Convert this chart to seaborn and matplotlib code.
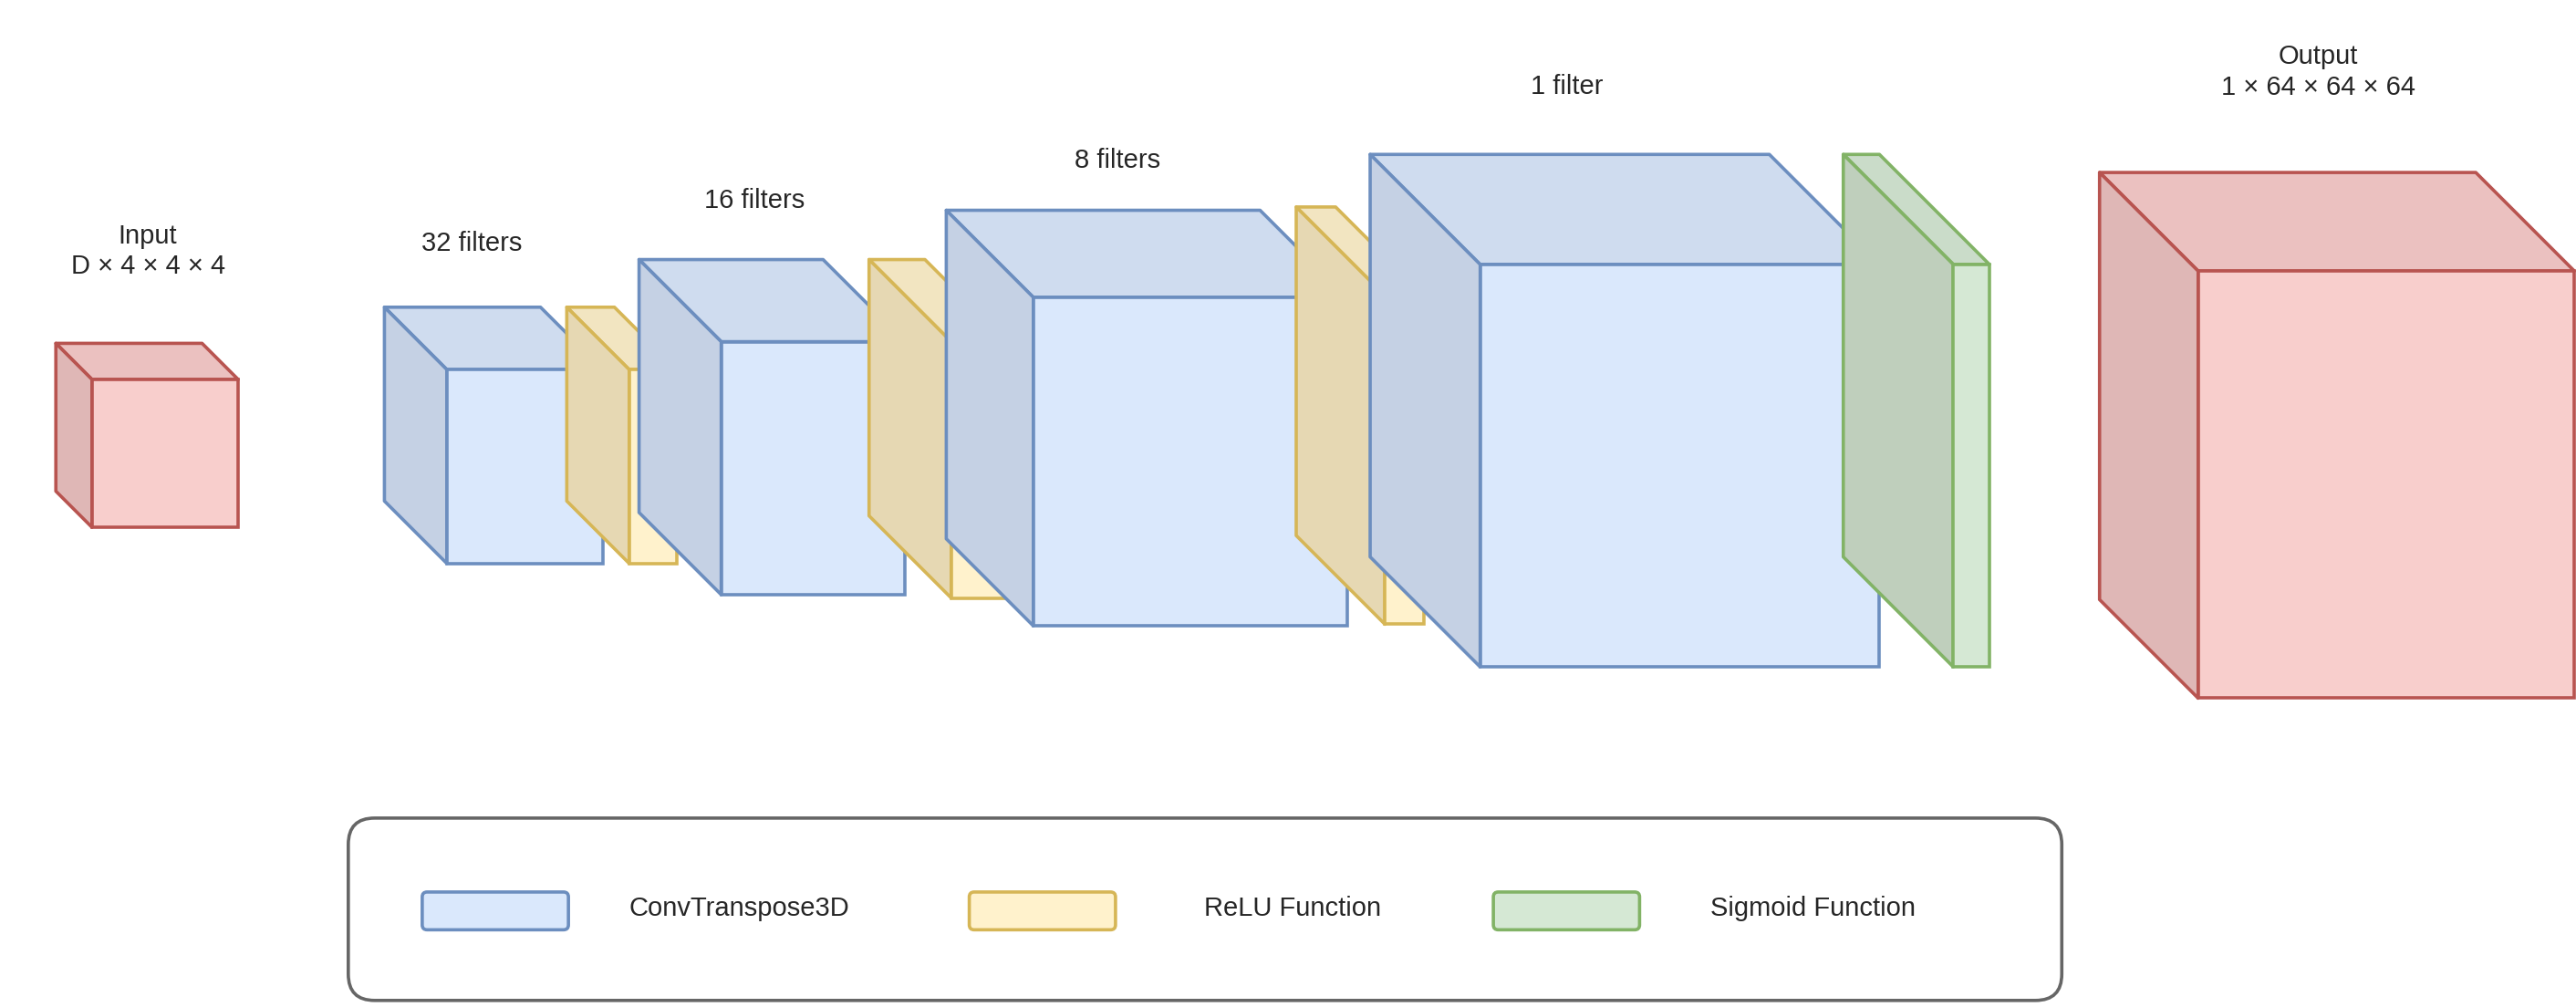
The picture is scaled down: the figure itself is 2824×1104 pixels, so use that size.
import matplotlib.pyplot as plt
import seaborn as sns
from matplotlib.patches import Polygon, Rectangle, FancyBboxPatch

sns.set_theme(style="white")
plt.rcParams['font.family'] = ['Liberation Sans', 'DejaVu Sans']

# layer blocks: front face (x0, y0, x1, y1), depth offset, kind
layer_names = ["input", "conv32", "relu1", "conv16", "relu2", "conv8", "relu3", "conv1", "sigmoid", "output"]
front_x0 = [56, 272, 383, 439, 579, 629, 843, 901, 1189, 1338]
front_y0 = [231, 225, 225, 208, 208, 181, 180, 161, 161, 165]
front_x1 = [145, 367, 412, 551, 613, 820, 867, 1144, 1211, 1567]
front_y1 = [321, 343, 343, 362, 364, 381, 380, 406, 406, 425]
depth = [22, 38, 38, 50, 50, 53, 54, 67, 67, 60]
kinds = ["red", "blue", "yellow", "blue", "yellow", "blue", "yellow", "blue", "green", "red"]

label_text = ["Input\nD × 4 × 4 × 4", "32 filters", "16 filters", "8 filters", "1 filter", "Output\n1 × 64 × 64 × 64"]
label_x = [90, 287, 459, 680, 954, 1411]
label_y = [153, 148, 122, 98, 53, 44]

legend_names = ["ConvTranspose3D", "ReLU Function", "Sigmoid Function"]
legend_kinds = ["blue", "yellow", "green"]
legend_swatch_x = [257, 590, 909]
legend_text_x = [383, 733, 1041]

colors = {
    "blue":   dict(front="#dae8fc", top="#cfdcef", side="#c5d1e4", edge="#6c8ebf"),
    "yellow": dict(front="#fff2cc", top="#f2e5c1", side="#e6d8b3", edge="#d6b656"),
    "green":  dict(front="#d5e8d4", top="#cadcc9", side="#bfcfbc", edge="#82b366"),
    "red":    dict(front="#f8cecc", top="#ebc1c0", side="#dfb7b6", edge="#b85450"),
}

fig = plt.figure(figsize=(28.24, 11.04), dpi=100)
ax = fig.add_axes([0, 0, 1, 1])
ax.set_xlim(0, 1568)
ax.set_ylim(613, 0)
ax.axis("off")

lw = 2.6
for x0, y0, x1, y1, d, k in zip(front_x0, front_y0, front_x1, front_y1, depth, kinds):
    c = colors[k]
    bx, by = x0 - d, y0 - d
    top = [(bx, by), (x1 - d, by), (x1, y0), (x0, y0)]
    side = [(bx, by), (x0, y0), (x0, y1), (bx, y1 - d)]
    ax.add_patch(Polygon(top, closed=True, fc=c["top"], ec=c["edge"], lw=lw, joinstyle="round"))
    ax.add_patch(Polygon(side, closed=True, fc=c["side"], ec=c["edge"], lw=lw, joinstyle="round"))
    ax.add_patch(Rectangle((x0, y0), x1 - x0, y1 - y0, fc=c["front"], ec=c["edge"], lw=lw))

for t, x, y in zip(label_text, label_x, label_y):
    ax.text(x, y, t, ha="center", va="center", fontsize=21, linespacing=1.25)

ax.add_patch(FancyBboxPatch((212, 498), 1043, 111, boxstyle="round,pad=0,rounding_size=16",
                            fc="white", ec="#666666", lw=2.6))
for name, k, sx, tx in zip(legend_names, legend_kinds, legend_swatch_x, legend_text_x):
    c = colors[k]
    ax.add_patch(FancyBboxPatch((sx, 543), 89, 23, boxstyle="round,pad=0,rounding_size=3",
                                fc=c["front"], ec=c["edge"], lw=2.6))
    ax.text(tx, 553, name, ha="left", va="center", fontsize=21)

fig.savefig("out.png", dpi=100)
